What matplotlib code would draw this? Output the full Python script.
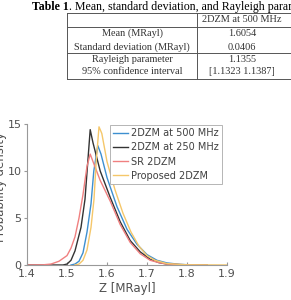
import matplotlib.pyplot as plt
from matplotlib.lines import Line2D
from matplotlib.text import Annotation

# table content
table_caption_bold = "Table 1"
table_caption = ". Mean, standard deviation, and Rayleigh parameters"
table_header = "2DZM at 500 MHz"
row_labels = ["Mean (MRayl)", "Standard deviation (MRayl)",
              "Rayleigh parameter", "95% confidence interval"]
row_values = ["1.6054", "0.0406", "1.1355", "[1.1323 1.1387]"]

# probability density curves
z_500 = [1.51, 1.52, 1.53, 1.54, 1.55, 1.56, 1.567, 1.577, 1.585, 1.60, 1.625,
         1.65, 1.675, 1.70, 1.725, 1.75, 1.78, 1.80, 1.85]
d_500 = [0.0, 0.1, 0.4, 1.3, 3.5, 6.5, 10.0, 12.7, 11.8, 9.3, 6.2,
         3.8, 2.2, 1.1, 0.5, 0.22, 0.08, 0.03, 0.0]

z_250 = [1.40, 1.49, 1.50, 1.51, 1.52, 1.535, 1.545, 1.552, 1.558, 1.565, 1.583,
         1.608, 1.633, 1.658, 1.683, 1.708, 1.73, 1.75, 1.80, 1.85]
d_250 = [0.0, 0.0, 0.1, 0.5, 1.5, 4.0, 7.0, 11.0, 14.4, 13.0, 10.0,
         7.2, 4.6, 2.6, 1.4, 0.6, 0.25, 0.1, 0.0, 0.0]

z_sr = [1.40, 1.44, 1.46, 1.48, 1.50, 1.51, 1.52, 1.53, 1.54, 1.55, 1.558, 1.565,
        1.583, 1.608, 1.633, 1.658, 1.683, 1.708, 1.73, 1.75, 1.80, 1.85]
d_sr = [0.0, 0.02, 0.1, 0.4, 1.0, 1.8, 3.0, 5.0, 7.5, 10.5, 11.8, 11.0,
        9.0, 6.8, 4.3, 2.4, 1.2, 0.5, 0.25, 0.1, 0.02, 0.0]

z_prop = [1.52, 1.53, 1.54, 1.55, 1.56, 1.5675, 1.573, 1.58, 1.587, 1.60, 1.62,
          1.64, 1.66, 1.68, 1.70, 1.72, 1.75, 1.80, 1.90]
d_prop = [0.0, 0.1, 0.5, 1.6, 4.0, 7.0, 11.0, 14.7, 14.0, 11.0, 8.0,
          5.5, 3.5, 2.0, 1.0, 0.5, 0.15, 0.02, 0.0]

W, H = 291, 300
fig = plt.figure(figsize=(W / 100, H / 100), dpi=100)


def fx(px):
    return px / W


def fy(py):
    return 1 - py / H


# caption, bold label followed by plain text
serif = "Liberation Serif"
cap = fig.text(fx(32), fy(10), table_caption_bold, fontsize=8.6,
               fontweight="bold", family=serif, va="baseline")
fig.add_artist(Annotation(table_caption, xy=(1, 0), xycoords=cap,
                          fontsize=8.6, family=serif, va="bottom",
                          annotation_clip=False))

# table grid
lc = "#555555"
for yy in [13.3, 27.3, 53.3, 79.3]:
    fig.add_artist(Line2D([fx(67), fx(300)], [fy(yy), fy(yy)], color=lc, lw=0.7))
for xx in [67, 197]:
    fig.add_artist(Line2D([fx(xx), fx(xx)], [fy(13.3), fy(79.3)], color=lc, lw=0.7))

fig.text(fx(242), fy(20), table_header, fontsize=7.4, family=serif,
         ha="center", va="center", color="#333333")
row_y = [33.5, 47, 60, 72]
for lab, val, yy in zip(row_labels, row_values, row_y):
    fig.text(fx(132), fy(yy), lab, fontsize=7.4, family=serif,
             ha="center", va="center", color="#333333")
    fig.text(fx(242), fy(yy), val, fontsize=7.4, family=serif,
             ha="center", va="center", color="#333333")

# density plot
ax = fig.add_axes([fx(27), fy(265), 200 / W, 141 / H])
ax.plot(z_500, d_500, color="#3d8fd0", lw=1.0, label="2DZM at 500 MHz")
ax.plot(z_250, d_250, color="#333333", lw=1.0, label="2DZM at 250 MHz")
ax.plot(z_sr, d_sr, color="#f08080", lw=1.0, label="SR 2DZM")
ax.plot(z_prop, d_prop, color="#f5c76a", lw=1.0, label="Proposed 2DZM")

ax.set_xlim(1.4, 1.9)
ax.set_ylim(0, 15)
ax.set_xticks([1.4, 1.5, 1.6, 1.7, 1.8, 1.9])
ax.set_yticks([0, 5, 10, 15])
for s in ["top", "right"]:
    ax.spines[s].set_visible(False)
for s in ["left", "bottom"]:
    ax.spines[s].set_color("#999999")
    ax.spines[s].set_linewidth(0.8)
ax.tick_params(axis="x", direction="in", length=2, color="#999999",
               labelsize=8, labelcolor="#505050", pad=3)
ax.tick_params(axis="y", direction="out", length=2, color="#999999",
               labelsize=8, labelcolor="#505050", pad=2)
ax.set_xlabel("Z [MRayl]", fontsize=8.5, color="#505050", labelpad=2)
ax.set_ylabel("Probability density", fontsize=8.5, color="#505050")
ax.yaxis.set_label_coords(-0.1, 0.55)

leg = ax.legend(loc="upper right", bbox_to_anchor=(0.975, 0.993),
                borderaxespad=0, fontsize=7, frameon=True, fancybox=False,
                framealpha=1, edgecolor="#aaaaaa", handlelength=1.5,
                handletextpad=0.3, labelspacing=0.42, borderpad=0.35)
for t in leg.get_texts():
    t.set_color("#404040")
leg.get_frame().set_linewidth(0.6)

fig.savefig("out.png", dpi=100)
